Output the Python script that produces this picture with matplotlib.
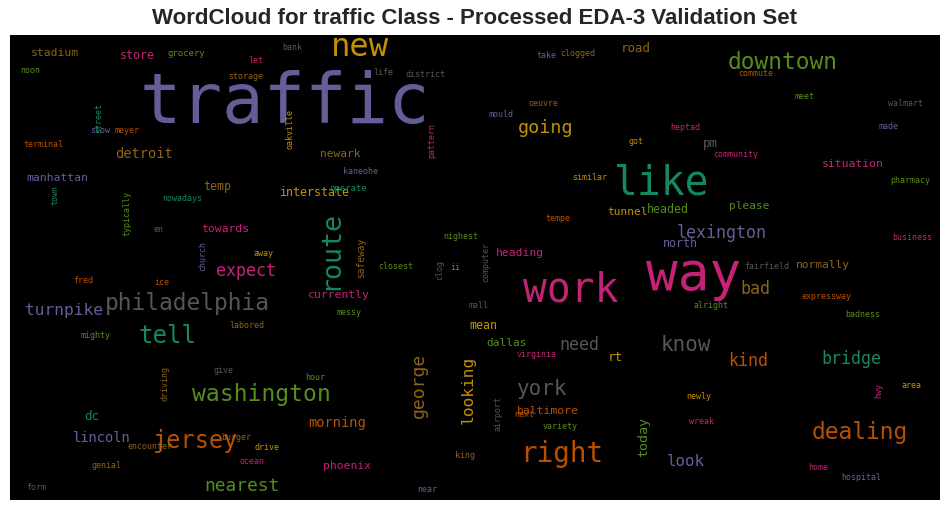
import matplotlib.pyplot as plt

# Dark2 palette used by the word cloud
C = {'teal': '#1b9e77', 'orange': '#d95f02', 'purple': '#7570b3', 'pink': '#e7298a',
     'green': '#66a61e', 'yellow': '#e6ab02', 'brown': '#a6761d', 'gray': '#666666'}

words = ['traffic', 'new', 'downtown', 'like', 'way', 'work', 'route', 'philadelphia', 'tell',
         'washington', 'jersey', 'right', 'dealing', 'york', 'know', 'going', 'lexington', 'expect',
         'turnpike', 'nearest', 'bridge', 'kind', 'need', 'george', 'looking', 'detroit', 'manhattan',
         'stadium', 'store', 'grocery', 'road', 'situation', 'interstate', 'temp', 'towards', 'safeway',
         'currently', 'bad', 'please', 'tunnel', 'headed', 'north', 'heading', 'normally', 'mean',
         'dallas', 'rt', 'baltimore', 'today', 'look', 'lincoln', 'dc', 'morning', 'phoenix', 'pm',
         'newark', 'kaneohe', 'operate',
         'noon', 'terminal', 'street', 'town', 'slow', 'meyer', 'typically', 'nowadays', 'en', 'church',
         'away', 'ice', 'fred', 'mighty', 'labored', 'messy', 'give', 'driving', 'hour', 'burger', 'drive',
         'encounter', 'ocean', 'genial', 'form', 'let', 'storage', 'life', 'bank', 'district', 'oakville',
         'pattern', 'mould', 'oeuvre', 'take', 'clogged', 'got', 'heptad', 'community', 'commute', 'meet',
         'walmart', 'made', 'pharmacy', 'similar', 'tempe', 'nighest', 'closest', 'clog', 'ii', 'computer',
         'mall', 'alright', 'fairfield', 'expressway', 'business', 'badness', 'virginia', 'airport', 'next',
         'variety', 'king', 'newly', 'wreak', 'hwy', 'area', 'home', 'hospital', 'near']
# rendered word length in pixels (sets font size)
lengths = [290, 58, 110, 95, 95, 95, 80, 165, 58, 138, 85, 83, 96, 50, 50, 55, 90, 60, 78, 75, 60,
           40, 40, 65, 68, 58, 62, 48, 35, 38, 30, 62, 70, 28, 48, 40, 62, 30, 40, 40, 42, 35, 48, 54,
           28, 40, 15, 62, 40, 38, 58, 15, 58, 48, 15, 40, 35, 38]
colors = ['purple', 'yellow', 'green', 'teal', 'pink', 'pink', 'teal', 'gray', 'teal', 'green', 'orange',
          'orange', 'orange', 'gray', 'gray', 'yellow', 'purple', 'pink', 'purple', 'green', 'teal',
          'orange', 'gray', 'brown', 'yellow', 'brown', 'purple', 'brown', 'pink', 'green', 'brown',
          'pink', 'yellow', 'brown', 'pink', 'brown', 'pink', 'brown', 'green', 'yellow', 'green',
          'purple', 'pink', 'brown', 'yellow', 'green', 'yellow', 'orange', 'green', 'purple', 'purple',
          'teal', 'orange', 'pink', 'gray', 'brown', 'purple', 'teal',
          'green', 'orange', 'teal', 'teal', 'purple', 'orange', 'green', 'teal', 'teal', 'purple',
          'yellow', 'orange', 'orange', 'green', 'brown', 'green', 'gray', 'brown', 'green', 'brown',
          'yellow', 'brown', 'pink', 'brown', 'gray', 'pink', 'brown', 'gray', 'gray', 'gray', 'yellow',
          'pink', 'purple', 'brown', 'purple', 'brown', 'yellow', 'pink', 'pink', 'orange', 'green',
          'gray', 'purple', 'green', 'yellow', 'orange', 'green', 'green', 'gray', 'green', 'gray',
          'gray', 'green', 'gray', 'orange', 'pink', 'green', 'pink', 'gray', 'orange', 'green', 'brown',
          'yellow', 'pink', 'pink', 'yellow', 'pink', 'purple', 'purple']
vertical = {'route', 'george', 'looking', 'safeway', 'today', 'street', 'town', 'typically', 'church',
            'driving', 'oakville', 'pattern', 'clog', 'computer', 'airport', 'hwy'}

# layout positions (pixel centres in the image)
xs = [285, 360, 783, 662, 694, 571, 330, 187, 167, 261, 196, 562, 860, 542, 686, 546, 722, 246, 64, 242,
      851, 748, 579, 419, 468, 144, 57, 55, 137, 186, 636, 853, 315, 217, 225, 361, 339, 755, 749, 627,
      668, 680, 520, 823, 483, 507, 615, 548, 644, 686, 102, 92, 337, 347, 710, 340, 360, 348,
      30, 43, 99, 55, 100, 127, 127, 182, 158, 203, 263, 162, 83, 95, 247, 349, 223, 165, 315, 236, 267,
      150, 252, 106, 36, 256, 246, 383, 292, 425, 290, 432, 501, 543, 546, 578, 636, 685, 736, 756, 804,
      905, 888, 910, 590, 558, 461, 396, 440, 455, 486, 478, 711, 767, 826, 912, 863, 537, 498, 524, 560,
      465, 699, 701, 879, 911, 818, 861, 427]
ys = [103, 47, 62, 183, 275, 290, 250, 303, 336, 394, 441, 454, 432, 389, 345, 128, 233, 271, 310, 486,
      359, 361, 345, 385, 390, 154, 178, 53, 55, 53, 48, 164, 192, 186, 229, 258, 295, 289, 206, 212,
      209, 243, 253, 265, 325, 343, 357, 411, 437, 461, 438, 416, 423, 466, 143, 154, 171, 188,
      70, 144, 118, 195, 130, 130, 213, 198, 229, 256, 253, 282, 280, 335, 325, 312, 370, 383, 377, 437,
      447, 446, 461, 465, 487, 60, 76, 72, 47, 74, 129, 140, 114, 103, 55, 53, 141, 127, 154, 73, 96,
      103, 126, 180, 177, 218, 236, 266, 270, 267, 262, 305, 305, 266, 296, 237, 314, 354, 413, 414,
      426, 455, 396, 421, 390, 385, 467, 477, 489]

fig = plt.figure(figsize=(9.5, 5.11), dpi=100)
fig.patch.set_facecolor('white')
ax = fig.add_axes([10 / 950, 11 / 511, 930 / 950, 465 / 511])
ax.set_facecolor('black')
ax.set_xlim(10, 940)
ax.set_ylim(500, 35)
ax.set_xticks([])
ax.set_yticks([])
for s in ax.spines.values():
    s.set_visible(False)

for i, w in enumerate(words):
    if i < len(lengths):
        L = lengths[i]
    else:
        L = len(w) * 5.0
    fs_px = L / (len(w) * 0.6)
    ax.text(xs[i], ys[i], w, fontsize=fs_px * 0.72, color=C[colors[i]], alpha=0.85,
            family='DejaVu Sans Mono', ha='center', va='center',
            rotation=90 if w in vertical else 0)

fig.suptitle('WordCloud for traffic Class - Processed EDA-3 Validation Set', fontsize=16,
             fontweight='bold', color='#262626', y=0.985, family='Liberation Sans')
fig.savefig('out.png', dpi=100)
